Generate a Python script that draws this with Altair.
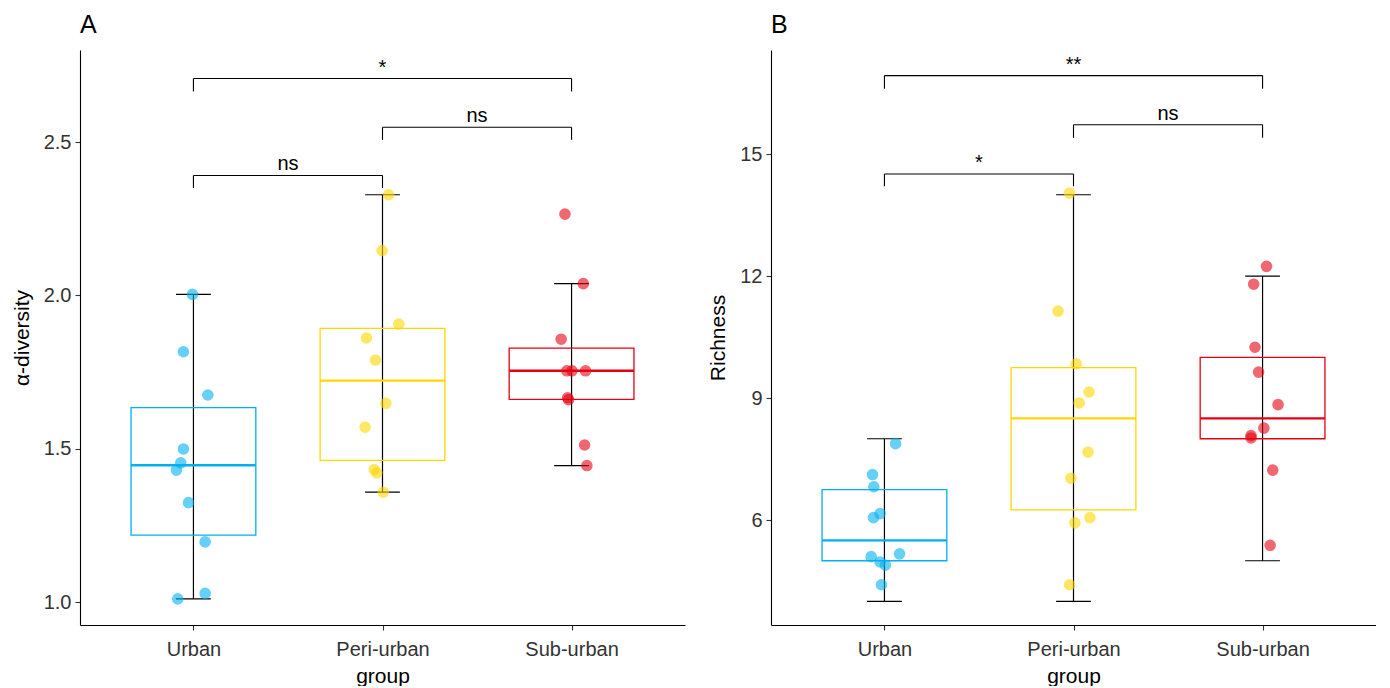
import json
import altair as alt
import pandas as pd

groups = ["Urban", "Peri-urban", "Sub-urban"]
colors = ["#00B0F0", "#FFD700", "#E60012"]

# ---------------- Panel A : alpha-diversity ----------------
a_urban = [2.003, 1.816, 1.675, 1.499, 1.454, 1.430, 1.324, 1.196, 1.028, 1.010]
a_urban_jit = [-0.005, -0.053, 0.076, -0.053, -0.067, -0.090, -0.026, 0.062, 0.062, -0.083]
a_peri = [2.328, 2.146, 1.906, 1.861, 1.789, 1.648, 1.570, 1.432, 1.421, 1.358]
a_peri_jit = [0.032, -0.002, 0.086, -0.085, -0.037, 0.018, -0.092, -0.044, -0.030, 0.004]
a_sub = [2.265, 2.038, 1.857, 1.754, 1.754, 1.754, 1.666, 1.660, 1.512, 1.445]
a_sub_jit = [-0.035, 0.062, -0.055, -0.025, 0.002, 0.074, -0.021, -0.016, 0.069, 0.081]

a_q1 = [1.218, 1.462, 1.661]
a_med = [1.446, 1.722, 1.754]
a_q3 = [1.634, 1.892, 1.828]
a_lo = [1.010, 1.358, 1.445]
a_hi = [2.003, 2.328, 2.038]

a_br_from = [1, 2, 1]
a_br_to = [2, 3, 3]
a_br_y = [2.391, 2.548, 2.707]
a_br_tip = [2.350, 2.507, 2.665]
a_br_label = ["ns", "ns", "*"]

# ---------------- Panel B : Richness ----------------
b_urban = [7.88, 7.12, 6.82, 6.16, 6.06, 5.10, 5.17, 4.97, 4.89, 4.41]
b_urban_jit = [0.059, -0.063, -0.056, -0.023, -0.058, -0.070, 0.080, -0.023, 0.005, -0.016]
b_peri = [14.04, 11.14, 9.84, 9.15, 8.88, 7.67, 7.03, 6.06, 5.93, 4.41]
b_peri_jit = [-0.021, -0.082, 0.014, 0.082, 0.030, 0.077, -0.014, 0.087, 0.007, -0.021]
b_sub = [12.24, 11.80, 10.25, 9.64, 8.84, 8.26, 8.08, 8.02, 7.23, 5.38]
b_sub_jit = [0.021, -0.047, -0.040, -0.021, 0.082, 0.007, -0.061, -0.061, 0.054, 0.040]

b_q1 = [5.0, 6.25, 8.0]
b_med = [5.5, 8.5, 8.5]
b_q3 = [6.75, 9.75, 10.0]
b_lo = [4.0, 4.0, 5.0]
b_hi = [8.0, 14.0, 12.0]

b_br_from = [1, 2, 1]
b_br_to = [2, 3, 3]
b_br_y = [14.51, 15.72, 16.93]
b_br_tip = [14.21, 15.40, 16.61]
b_br_label = ["*", "ns", "**"]

FONT = "Liberation Sans"
BOX_HALF = 0.33
CAP_HALF = 0.092


def points_df(vals, jits):
    rows = []
    for gi, (v, j) in enumerate(zip(vals, jits)):
        for val, jit in zip(v, j):
            rows.append({"group": groups[gi], "x": gi + 1 + jit, "value": val})
    return pd.DataFrame(rows)


def box_df(q1, med, q3, lo, hi):
    rows = []
    for gi in range(3):
        c = gi + 1
        rows.append({
            "group": groups[gi], "c": c,
            "xl": c - BOX_HALF, "xr": c + BOX_HALF,
            "cl": c - CAP_HALF, "cr": c + CAP_HALF,
            "q1": q1[gi], "med": med[gi], "q3": q3[gi], "lo": lo[gi], "hi": hi[gi],
        })
    return pd.DataFrame(rows)


def bracket_df(f, t, y, tip, lab):
    return pd.DataFrame({
        "x1": f, "x2": t, "xm": [(a + b) / 2 for a, b in zip(f, t)],
        "y": y, "tip": tip, "label": lab,
    })


label_expr = "%s[datum.value - 1]" % json.dumps(groups)


def panel(letter, ytitle, pdf, bdf, brdf, ydomain, yticks, yfmt):
    xs = alt.Scale(domain=[0.4, 3.6], nice=False, zero=False)
    ys = alt.Scale(domain=ydomain, nice=False, zero=False)
    cs = alt.Scale(domain=groups, range=colors)
    xaxis = alt.Axis(values=[1, 2, 3], labelExpr=label_expr, title="group",
                     grid=False, tickSize=5, labelPadding=9, titlePadding=6)
    yaxis = alt.Axis(values=yticks, format=yfmt, title=ytitle, grid=False,
                     tickSize=5, labelPadding=4, titlePadding=11)

    def X(f):
        return alt.X(f, type="quantitative", scale=xs, axis=xaxis)

    def Y(f):
        return alt.Y(f, type="quantitative", scale=ys, axis=yaxis)

    col = alt.Color("group:N", scale=cs, legend=None)

    base_b = alt.Chart(bdf)
    whisk = base_b.mark_rule(color="black", strokeWidth=1.2).encode(
        x=X("c"), y=Y("lo"), y2="hi")
    cap_lo = base_b.mark_rule(color="black", strokeWidth=1.2).encode(
        x=X("cl"), x2="cr", y=Y("lo"))
    cap_hi = base_b.mark_rule(color="black", strokeWidth=1.2).encode(
        x=X("cl"), x2="cr", y=Y("hi"))
    box = base_b.mark_rect(fillOpacity=0, strokeWidth=1.3).encode(
        x=X("xl"), x2="xr", y=Y("q1"), y2="q3", stroke=alt.Stroke("group:N", scale=cs, legend=None))
    med = base_b.mark_rule(strokeWidth=2.4).encode(
        x=X("xl"), x2="xr", y=Y("med"), color=col)

    pts = alt.Chart(pdf).mark_circle(size=135, opacity=0.6).encode(
        x=X("x"), y=Y("value"), color=col)

    base_br = alt.Chart(brdf)
    br_h = base_br.mark_rule(color="black", strokeWidth=1.1).encode(
        x=X("x1"), x2="x2", y=Y("y"))
    br_l = base_br.mark_rule(color="black", strokeWidth=1.1).encode(
        x=X("x1"), y=Y("tip"), y2="y")
    br_r = base_br.mark_rule(color="black", strokeWidth=1.1).encode(
        x=X("x2"), y=Y("tip"), y2="y")
    br_t = base_br.mark_text(font=FONT, fontSize=20, baseline="bottom", dy=-1,
                             color="black").encode(
        x=X("xm"), y=Y("y"), text="label:N")

    return alt.layer(whisk, cap_lo, cap_hi, box, med, pts, br_h, br_l, br_r, br_t).properties(
        width=605, height=575,
        title=alt.TitleParams(letter, anchor="start", frame="group", fontSize=25,
                              font=FONT, fontWeight="normal", color="black", offset=12),
    )


pa = panel("A", "α-diversity",
           points_df([a_urban, a_peri, a_sub], [a_urban_jit, a_peri_jit, a_sub_jit]),
           box_df(a_q1, a_med, a_q3, a_lo, a_hi),
           bracket_df(a_br_from, a_br_to, a_br_y, a_br_tip, a_br_label),
           [0.925, 2.80], [1.0, 1.5, 2.0, 2.5], ".1f")

pb = panel("B", "Richness",
           points_df([b_urban, b_peri, b_sub], [b_urban_jit, b_peri_jit, b_sub_jit]),
           box_df(b_q1, b_med, b_q3, b_lo, b_hi),
           bracket_df(b_br_from, b_br_to, b_br_y, b_br_tip, b_br_label),
           [3.42, 17.56], [6, 9, 12, 15], "d")

chart = alt.hconcat(pa, pb, spacing=22).resolve_scale(
    x="independent", y="independent", color="independent", stroke="independent"
).properties(
    padding={"left": 3, "right": 0, "top": 5, "bottom": 0}
).configure_view(stroke=None).configure_axis(
    labelFont=FONT, labelFontSize=20, labelColor="#333333",
    titleFont=FONT, titleFontSize=21, titleFontWeight="normal", titleColor="black",
    domainColor="black", domainWidth=1.1, tickColor="#333333", tickWidth=1.1,
)

chart.save("out.html", embed_options={"renderer": "svg", "actions": False})
